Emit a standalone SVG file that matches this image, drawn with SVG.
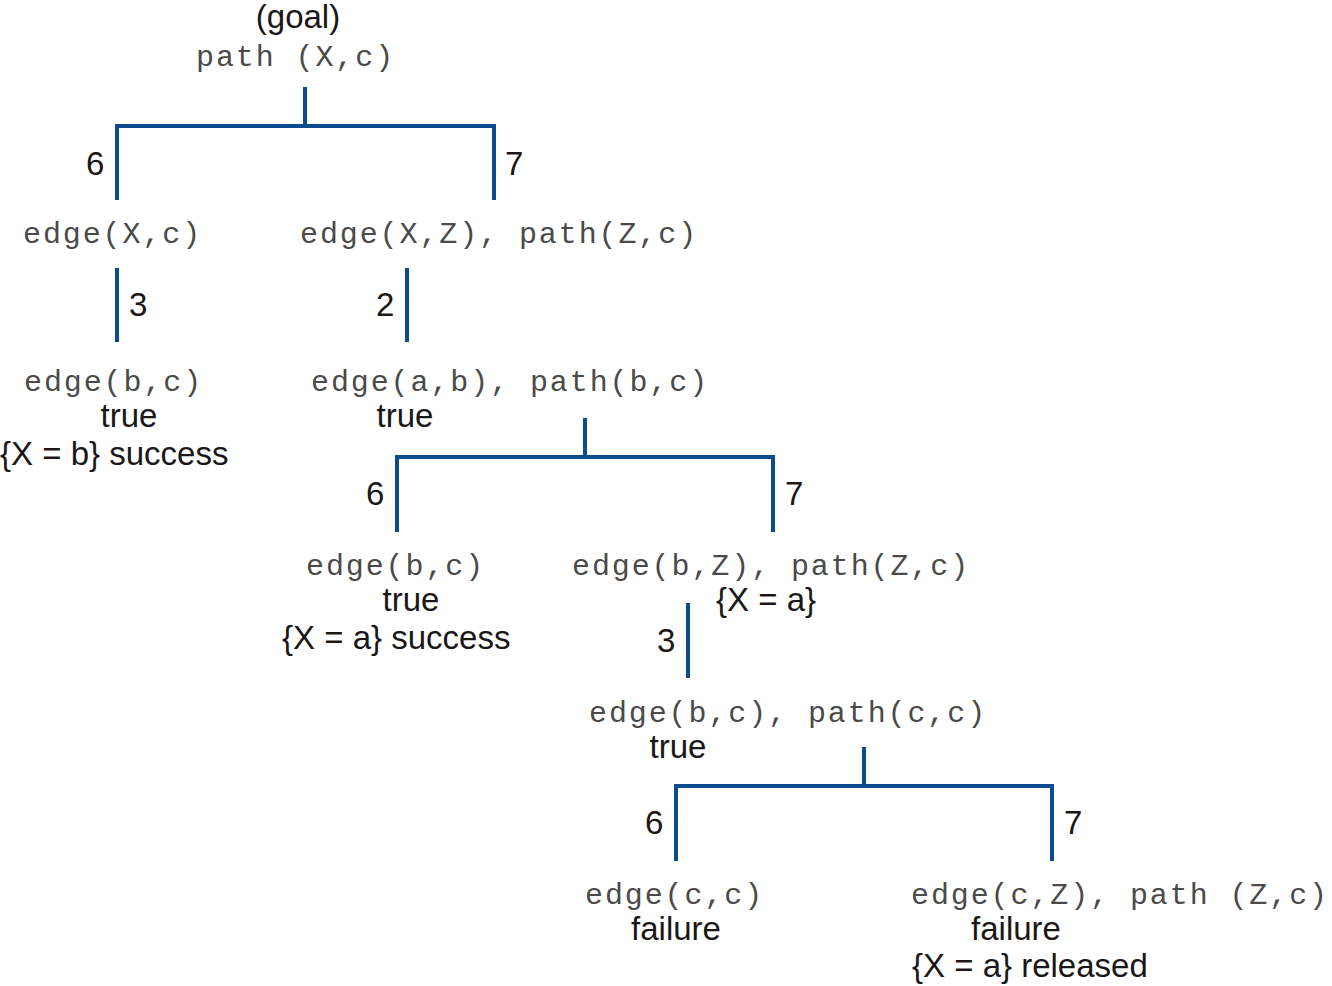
<svg xmlns="http://www.w3.org/2000/svg" width="1332" height="986" viewBox="0 0 1332 986">
<style>
.m{font-family:"Liberation Mono","DejaVu Sans Mono",monospace;font-size:30px;letter-spacing:1.9px;fill:#4a4a4a}
.s{font-family:"Liberation Sans",Arial,sans-serif;font-size:33px;fill:#1a1718}
.c{text-anchor:middle}
.ln{stroke:#0b4a8c;stroke-width:4;fill:none;stroke-linecap:butt}
</style>
<rect width="1332" height="986" fill="#fff"/>
<g id="connectors">
<path class="ln" d="M305 87V126M117 200V126H494V200"/>
<path class="ln" d="M117 268V342"/>
<path class="ln" d="M407 268V342"/>
<path class="ln" d="M585 418V457M397 532V457H773V532"/>
<path class="ln" d="M688 603V678"/>
<path class="ln" d="M864 747V786M676 861V786H1052V861"/>
</g>
<g id="labels">
<text class="s" x="86" y="175">6</text>
<text class="s" x="505" y="175">7</text>
<text class="s" x="129" y="316">3</text>
<text class="s" x="376" y="316">2</text>
<text class="s" x="366" y="505">6</text>
<text class="s" x="785" y="505">7</text>
<text class="s" x="657" y="652">3</text>
<text class="s" x="645" y="834">6</text>
<text class="s" x="1064" y="834">7</text>
</g>
<g id="goal">
<text class="s c" x="298" y="28">(goal)</text>
<text class="m" x="196" y="66">path (X,c)</text>
</g>
<g id="n-edge-Xc">
<text class="m" x="23" y="243">edge(X,c)</text>
</g>
<g id="n-edge-XZ">
<text class="m" x="300" y="243">edge(X,Z), path(Z,c)</text>
</g>
<g id="n-edge-bc-1">
<text class="m" x="24" y="391">edge(b,c)</text>
<text class="s c" x="129" y="427">true</text>
<text class="s" x="0" y="465">{X = b} success</text>
</g>
<g id="n-edge-ab">
<text class="m" x="311" y="391">edge(a,b), path(b,c)</text>
<text class="s c" x="405" y="427">true</text>
</g>
<g id="n-edge-bc-2">
<text class="m" x="306" y="575">edge(b,c)</text>
<text class="s c" x="411" y="611">true</text>
<text class="s" x="282" y="649">{X = a} success</text>
</g>
<g id="n-edge-bZ">
<text class="m" x="572" y="575">edge(b,Z), path(Z,c)</text>
<text class="s" x="716" y="611">{X = a}</text>
</g>
<g id="n-edge-bc-pcc">
<text class="m" x="589" y="722">edge(b,c), path(c,c)</text>
<text class="s c" x="678" y="758">true</text>
</g>
<g id="n-edge-cc">
<text class="m" x="585" y="904">edge(c,c)</text>
<text class="s c" x="676" y="940">failure</text>
</g>
<g id="n-edge-cZ">
<text class="m" x="911" y="904">edge(c,Z), path (Z,c)</text>
<text class="s c" x="1016" y="940">failure</text>
<text class="s" x="912" y="977">{X = a} released</text>
</g>
</svg>
